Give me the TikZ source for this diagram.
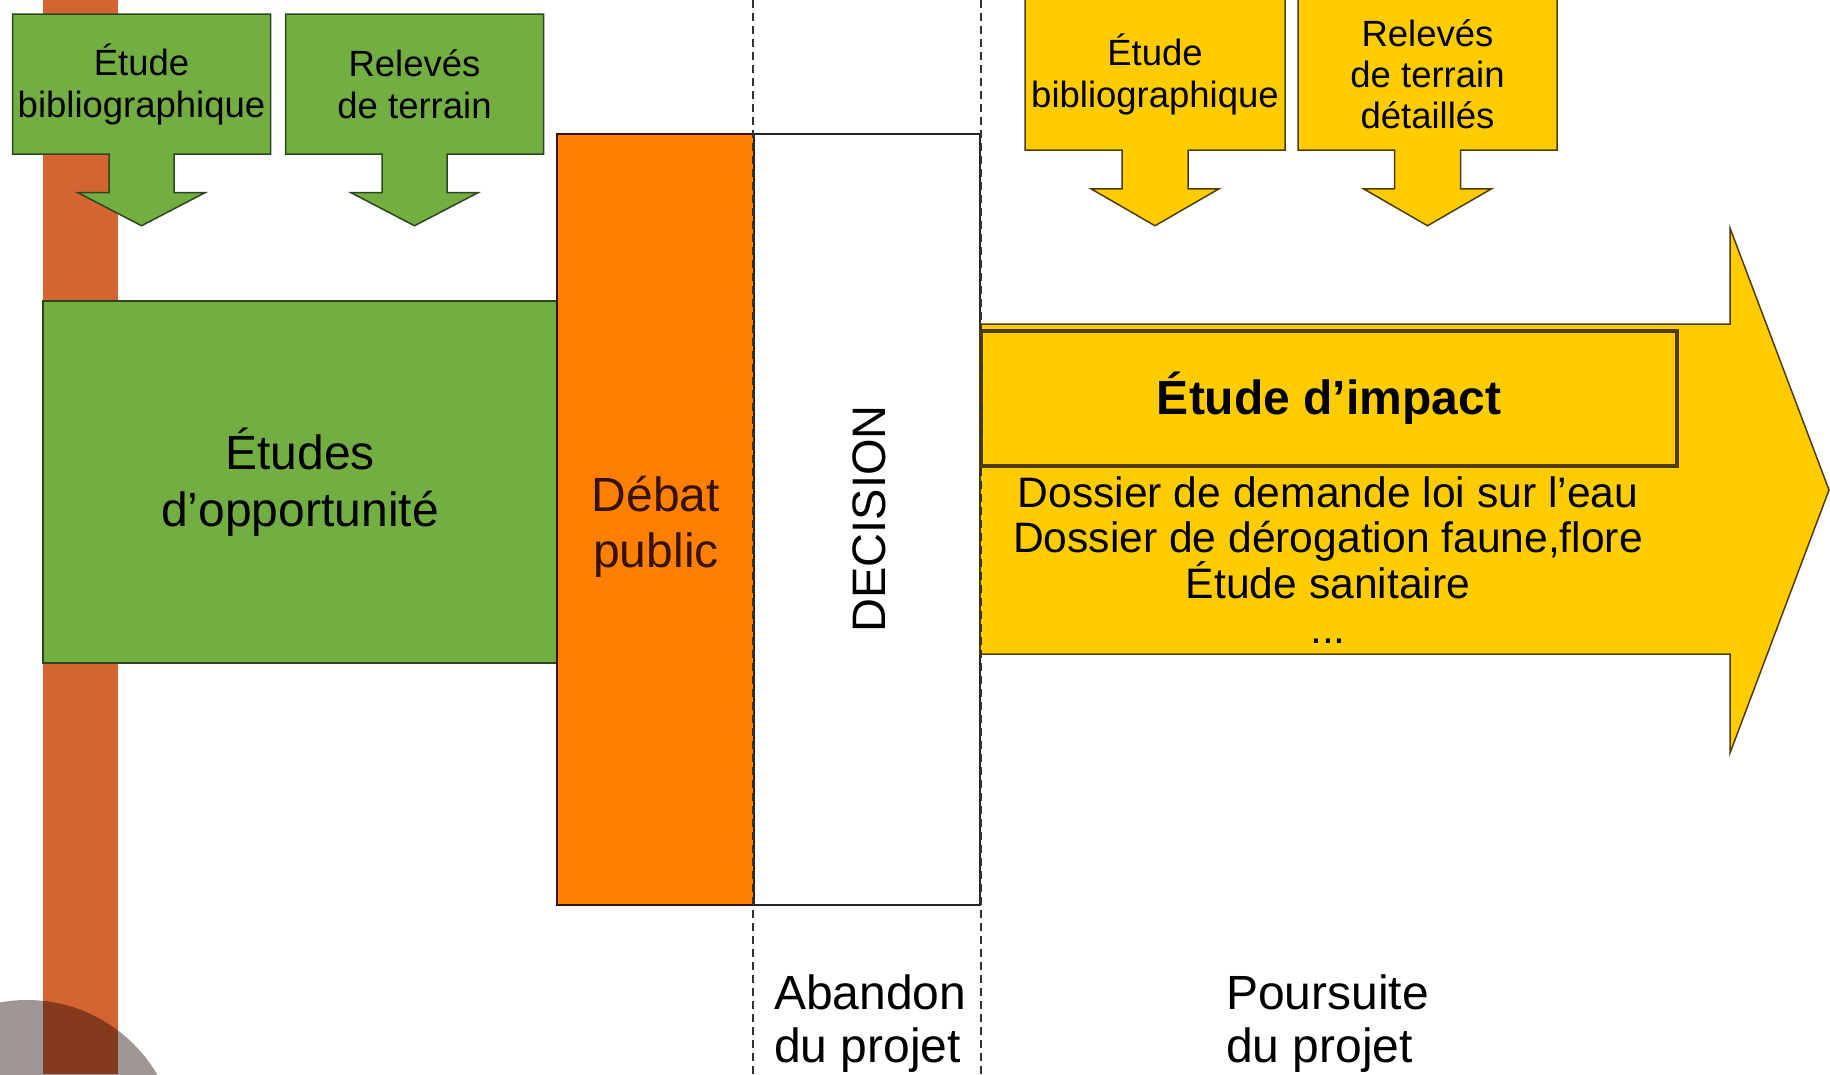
\documentclass[tikz,border=0pt]{standalone}
\usepackage{fontspec}
\setmainfont{Liberation Sans}
\usetikzlibrary{shapes.arrows}
\definecolor{vert}{RGB}{114,174,66}
\definecolor{jaune}{RGB}{255,204,0}
\definecolor{orangevif}{RGB}{255,128,0}
\definecolor{brique}{RGB}{212,100,50}
\definecolor{ombre}{RGB}{160,150,150}
\definecolor{brun}{RGB}{55,18,0}
\definecolor{bordvert}{RGB}{45,70,30}
\definecolor{bordjaune}{RGB}{80,60,0}

\begin{document}
\begin{tikzpicture}[x=1pt, y=-1pt]
	\tikzstyle{every node} = [inner sep=0pt, align=center]
	\tikzstyle{petit} = [arrow box, line width=1.5pt, minimum width=258pt, minimum height=140pt, arrow box shaft width=65pt, arrow box head extend=31pt, arrow box tip angle=125, font=\fontsize{36.5}{42}\selectfont]
	\tikzstyle{grand} = [font=\fontsize{48}{57}\selectfont]
	\tikzstyle{pointille} = [black!80, line width=1.6pt, dash pattern=on 8pt off 5pt]
	\useasboundingbox (0,0) rectangle (1830,1074);
	\clip (0,0) rectangle (1830,1074);
	% frise et cercle
	\fill[brique] (43,0) rectangle (118,1074);
	\fill[ombre, blend mode=multiply] (27,1151) circle (151pt);
	% phase amont
	\node[petit, draw=bordvert, fill=vert, arrow box arrows={south:71pt}] (biblio1) at (141.5,84) {Étude\\bibliographique};
	\node[petit, draw=bordvert, fill=vert, arrow box arrows={south:71pt}] (releve1) at (414.5,84) {Relevés\\de terrain};
	\node[grand, draw=bordvert, line width=1.5pt, fill=vert, minimum width=514pt, minimum height=362pt] (opport) at (300,482) {Études\\d’opportunité};
	\node[draw=brun, line width=1.5pt, fill=orangevif, minimum width=197pt, minimum height=771pt] (debat) at (655.5,519.5) {};
	\node[grand, text=brun, font=\fontsize{48}{56}\selectfont] (debattxt) at (656,527) {Débat\\public};
	\node[draw=black!85, line width=1.5pt, fill=white, minimum width=226pt, minimum height=771pt] (decision) at (867,519.5) {};
	\node[grand, rotate=90, font=\fontsize{47}{47}\selectfont] (decisiontxt) at (869,519) {DECISION};
	% phase aval
	\draw[draw=bordjaune, line width=1.5pt, fill=jaune] (980,324) -- (1730,324) -- (1730,228) -- (1829,490) -- (1730,753) -- (1730,654) -- (980,654) -- cycle;
	\node[petit, draw=bordjaune, fill=jaune, minimum width=260pt, minimum height=151pt, arrow box shaft width=66pt, arrow box tip angle=120, arrow box arrows={south:75pt}] (biblio2) at (1155,74.5) {Étude\\bibliographique};
	\node[petit, draw=bordjaune, fill=jaune, minimum width=259pt, minimum height=151pt, arrow box shaft width=66pt, arrow box tip angle=120, arrow box arrows={south:75pt}, font=\fontsize{36.5}{41}\selectfont] (releve2) at (1427.5,74.5) {Relevés\\de terrain\\détaillés};
	\node[draw=bordjaune, line width=3.5pt, fill=jaune, minimum width=696pt, minimum height=135pt, font=\bfseries\fontsize{48}{57}\selectfont] (impact) at (1329,398.5) {Étude d’impact};
	\node[font=\fontsize{42.6}{45}\selectfont] (dossiers) at (1328,560) {Dossier de demande loi sur l’eau\\Dossier de dérogation faune,flore\\Étude sanitaire\\...};
	% limites de la decision
	\draw[pointille] (decision.north west |- 0,0) -- (decision.south west |- 0,1074);
	\draw[pointille] (decision.north east |- 0,0) -- (decision.south east |- 0,1074);
	\node[grand, anchor=north west, align=left, font=\fontsize{48}{53}\selectfont] (abandon) at (774,975) {Abandon\\du projet};
	\node[grand, anchor=north west, align=left, font=\fontsize{48}{53}\selectfont] (poursuite) at (1226,975) {Poursuite\\du projet};
\end{tikzpicture}
\end{document}
